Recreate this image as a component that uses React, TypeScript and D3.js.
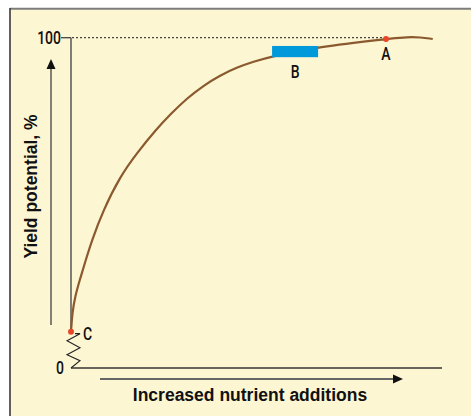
import * as d3 from "d3";

// curve: nutrient additions (0-100) vs yield potential (%)
const nutrient = [0, 0.35, 1.08, 2.43, 3.77, 5.58, 8.71, 13.2, 17.7, 23.1, 26.7, 31.2, 35.7, 40.2, 44.7, 49.1, 54.2, 66.6, 84.9, 92.2, 97.5];
const yieldPct = [11.0, 16.6, 21.6, 26.9, 31.9, 38.5, 47.8, 57.9, 65.0, 72.4, 76.7, 81.6, 85.5, 88.6, 91.0, 92.7, 94.4, 97.2, 99.6, 100.5, 99.6];

const yTicks = [0, 100];
const pointA = { label: "A", x: 84.9, y: 99.6 };
const pointC = { label: "C", x: 0, y: 11.0 };
const rangeB = { label: "B", x: [54.2, 66.6], y: [94.1, 97.5] };

const W = 471;
const H = 416;
const font = "'Liberation Sans', Arial, sans-serif";

// narrow regular lettering
function Narrow(props: { x: number; y: number; anchor?: string; children: any }) {
  return (
    <text
      transform={`translate(${props.x},${props.y}) scale(0.8,1)`}
      textAnchor={props.anchor ?? "start"}
      fontFamily="Roboto, sans-serif"
      fontWeight={500}
      fontSize={17.5}
      fill="#111"
    >
      {props.children}
    </text>
  );
}

export default function App() {
  const x = d3.scaleLinear().domain([0, 100]).range([71, 442]);
  const y = d3.scaleLinear().domain([0, 100]).range([368, 37.7]);

  const pts: [number, number][] = nutrient.map((n, i) => [n, yieldPct[i]]);
  const line = d3
    .line<[number, number]>()
    .x((d) => x(d[0]))
    .y((d) => y(d[1]))
    .curve(d3.curveBasis);

  const x0 = x(0);
  const yC = y(pointC.y);
  const yZero = y(0);
  // axis break zigzag between C and 0
  const zig: [number, number][] = [
    [x0 + 4, yC + 2],
    [x0 + 9, yC + 2],
    [x0 - 4, yC + 9],
    [x0 + 9, yC + 16],
    [x0 - 4, yC + 23],
    [x0 + 9, yC + 29],
    [x0, yZero],
  ];

  return (
    <div style={{ position: "absolute", left: 0, top: 0 }}>
      <svg width={W} height={H} style={{ display: "block" }}>
        <rect x={10} y={9} width={W - 10} height={H - 9} fill="#fdf6d3" />
        <line x1={10} x2={W} y1={8.7} y2={8.7} stroke="#7d7d7d" strokeWidth={2} />
        <line x1={10} x2={10} y1={8} y2={H} stroke="#3a3a3a" strokeWidth={1.6} />

        {/* 100 % reference */}
        <line x1={x0 + 1} x2={x(pointA.x)} y1={y(100)} y2={y(100)} stroke="#444" strokeWidth={1.2} strokeDasharray="2,2" />
        <line x1={61} x2={x0} y1={y(100)} y2={y(100)} stroke="#444" strokeWidth={1.3} />
        <line x1={x0} x2={x0} y1={y(100)} y2={yC} stroke="#555" strokeWidth={1.5} />
        <line x1={x0} x2={x(100)} y1={yZero} y2={yZero} stroke="#333" strokeWidth={1.3} />
        <polyline points={zig.map((p) => p.join(",")).join(" ")} fill="none" stroke="#222" strokeWidth={1.1} />

        {yTicks.map((t) => (
          <Narrow key={t} x={t === 100 ? 61 : 64} y={t === 100 ? y(t) + 6.5 : y(t) + 6} anchor="end">
            {t}
          </Narrow>
        ))}

        {/* direction arrows */}
        <line x1={51} x2={51} y1={325} y2={66} stroke="#333" strokeWidth={1.2} />
        <path d="M51,59 L46.5,69 L55.5,69 Z" fill="#111" />
        <line x1={100} x2={395} y1={379} y2={379} stroke="#666" strokeWidth={2} />
        <path d="M403,379 L393,374.5 L393,383.5 Z" fill="#111" />

        <path d={line(pts) ?? ""} fill="none" stroke="#8a5a2e" strokeWidth={2.2} />

        <rect
          x={x(rangeB.x[0])}
          y={y(rangeB.y[1])}
          width={x(rangeB.x[1]) - x(rangeB.x[0])}
          height={y(rangeB.y[0]) - y(rangeB.y[1])}
          fill="#0099d9"
        />
        <Narrow x={(x(rangeB.x[0]) + x(rangeB.x[1])) / 2} y={78} anchor="middle">
          {rangeB.label}
        </Narrow>

        <circle cx={x(pointA.x)} cy={y(pointA.y)} r={3} fill="#e8462a" />
        <Narrow x={x(pointA.x)} y={60} anchor="middle">
          {pointA.label}
        </Narrow>
        <circle cx={x(pointC.x)} cy={yC} r={3} fill="#e8462a" />
        <Narrow x={83} y={339.5}>
          {pointC.label}
        </Narrow>

        <text
          transform="translate(36.5,186.5) rotate(-90)"
          textAnchor="middle"
          fontFamily={font}
          fontWeight="bold"
          fontSize={17.5}
          fill="#111"
        >
          Yield potential, %
        </text>
        <text x={250} y={401} textAnchor="middle" fontFamily={font} fontWeight="bold" fontSize={17.5} fill="#111">
          Increased nutrient additions
        </text>
      </svg>
    </div>
  );
}
